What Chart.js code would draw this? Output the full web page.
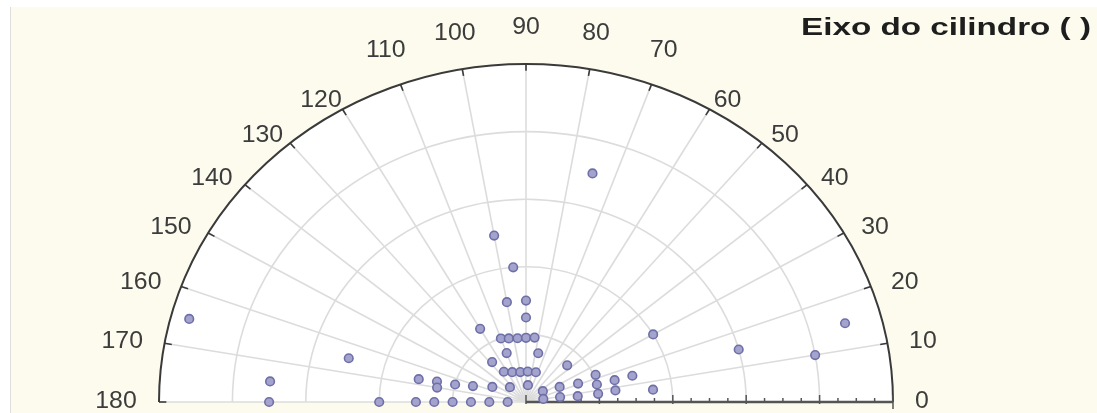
<!DOCTYPE html>
<html>
<head>
<meta charset="utf-8">
<script src="https://cdn.jsdelivr.net/npm/chart.js@4"></script>
<style>
  html, body { margin: 0; padding: 0; background: #ffffff; }
  #wrap { width: 1097px; height: 413px; }
</style>
</head>
<body>
<div id="wrap"><canvas id="chart" width="1097" height="413"></canvas></div>
<script>
// cylinder axis (degrees) and cylinder magnitude
const axisDegrees = [
  75, 100, 95, 100, 90, 90, 120,
  110, 104, 97, 90, 83,
  110, 77, 128,
  124, 113, 100, 87, 73,
  44, 30, 15, 10, 15,
  15, 6, 15, 8, 23, 15, 7,
  21, 7, 26, 9, 35, 11, 84,
  135, 154, 162, 165, 166, 170, 167,
  175, 165, 165,
  180, 180, 180, 180, 180, 180, 180, 180
]
const cylinderValues = [
  3.5, 2.5, 2.0, 1.5, 1.5, 1.25, 1.25,
  1.0, 0.97, 0.95, 0.95, 0.96,
  0.77, 0.74, 0.75,
  0.54, 0.48, 0.45, 0.45, 0.46,
  0.78, 2.0, 3.0, 4.0, 4.5,
  1.5, 1.74, 1.25, 1.23, 1.03, 1.0, 0.99,
  0.76, 0.71, 0.51, 0.47, 0.28, 0.24, 0.25,
  0.31, 0.51, 0.76, 1.0, 1.25, 1.23, 1.5,
  3.5, 4.75, 2.5,
  3.5, 2.0, 1.5, 1.25, 1.0, 0.75, 0.5, 0.25
]
const angleTicks = [0, 10, 20, 30, 40, 50, 60, 70, 80, 90, 100, 110, 120, 130, 140, 150, 160, 170, 180]
const radialRings = [1, 2, 3, 4]
const radialMax = 5
const titleText = "Eixo do cilindro ( )"

const rad = (deg) => (deg * Math.PI) / 180

const points = axisDegrees.map((deg, i) => ({
  x: cylinderValues[i] * Math.cos(rad(deg)),
  y: cylinderValues[i] * Math.sin(rad(deg)),
}))

// polar frame drawn from the x / y scales
const polarFrame = {
  id: "polarFrame",
  beforeDatasetsDraw(chart) {
    const { ctx } = chart
    const xs = chart.scales.x
    const ys = chart.scales.y
    const cx = xs.getPixelForValue(0)
    const cy = ys.getPixelForValue(0)
    const rx = (r) => xs.getPixelForValue(r) - cx
    const ry = (r) => cy - ys.getPixelForValue(r)
    const at = (r, deg) => [cx + rx(r) * Math.cos(rad(deg)), cy - ry(r) * Math.sin(rad(deg))]

    ctx.save()
    // panel
    ctx.fillStyle = "#ffffff"
    ctx.fillRect(0, 0, chart.width, chart.height)
    ctx.fillStyle = "#fcfbee"
    ctx.fillRect(10, 7, chart.width - 10, chart.height - 7)
    ctx.strokeStyle = "#dedede"
    ctx.lineWidth = 1
    ctx.beginPath()
    ctx.moveTo(10.5, 7)
    ctx.lineTo(10.5, chart.height)
    ctx.stroke()

    // white plot half-disc
    ctx.fillStyle = "#ffffff"
    ctx.beginPath()
    ctx.ellipse(cx, cy, rx(radialMax), ry(radialMax), 0, Math.PI, 2 * Math.PI)
    ctx.closePath()
    ctx.fill()

    // grid rings and spokes
    ctx.strokeStyle = "#dcdcdc"
    ctx.lineWidth = 1.6
    radialRings.forEach((r) => {
      ctx.beginPath()
      ctx.ellipse(cx, cy, rx(r), ry(r), 0, Math.PI, 2 * Math.PI)
      ctx.stroke()
    })
    angleTicks.forEach((deg) => {
      if (deg === 0) return
      const [x, y] = at(radialMax, deg)
      ctx.beginPath()
      ctx.moveTo(cx, cy)
      ctx.lineTo(x, y)
      ctx.stroke()
    })

    // outer arc with inward ticks
    ctx.strokeStyle = "#3a3a3a"
    ctx.lineWidth = 2
    ctx.beginPath()
    ctx.ellipse(cx, cy, rx(radialMax), ry(radialMax), 0, Math.PI, 2 * Math.PI)
    ctx.stroke()
    ctx.lineWidth = 1.6
    angleTicks.forEach((deg) => {
      const [x1, y1] = at(radialMax, deg)
      const [x2, y2] = at(radialMax - 0.1, deg)
      ctx.beginPath()
      ctx.moveTo(x1, y1)
      ctx.lineTo(x2, y2)
      ctx.stroke()
    })

    // radial axis along 0 deg
    ctx.strokeStyle = "#555555"
    ctx.lineWidth = 2.5
    ctx.beginPath()
    ctx.moveTo(cx, cy)
    ctx.lineTo(cx + rx(radialMax), cy)
    ctx.stroke()
    ctx.lineWidth = 1.5
    for (let v = 0; v <= radialMax; v += 0.25) {
      const x = cx + rx(v)
      const major = Number.isInteger(v)
      ctx.beginPath()
      ctx.moveTo(x, cy - (major ? 7 : 4))
      ctx.lineTo(x, cy + (v === radialMax ? 7 : major ? 2 : 0))
      ctx.stroke()
    }

    // angle labels
    ctx.fillStyle = "#3c3c3c"
    ctx.font = "23px 'Liberation Sans', Arial, sans-serif"
    ctx.textAlign = "center"
    ctx.textBaseline = "middle"
    angleTicks.forEach((deg) => {
      const text = String(deg)
      const s = Math.sin(rad(deg))
      const gx = 36 + (text.length - 2) * 7
      const gy = s > 0.93 ? 36 : 10
      const x = cx + (rx(radialMax) + gx) * Math.cos(rad(deg))
      const y = cy - (ry(radialMax) + gy) * s
      ctx.save()
      ctx.translate(x, y)
      ctx.scale(1.08, 1)
      ctx.fillText(text, 0, 0)
      ctx.restore()
    })
    ctx.restore()
  },
  afterDraw(chart) {
    const { ctx } = chart
    ctx.save()
    ctx.fillStyle = "#1e1e1e"
    ctx.font = "bold 24px 'Liberation Sans', Arial, sans-serif"
    ctx.textAlign = "right"
    ctx.textBaseline = "middle"
    const w = ctx.measureText(titleText).width
    ctx.translate(1091, 28)
    ctx.scale(290 / w, 1)
    ctx.fillText(titleText, 0, 0)
    ctx.restore()
  },
}

new Chart(document.getElementById("chart"), {
  type: "scatter",
  data: {
    datasets: [
      {
        data: points,
        pointRadius: 4.3,
        pointBackgroundColor: "#a3a3cd",
        pointBorderColor: "#6f6fa8",
        pointBorderWidth: 1.6,
        clip: false,
      },
    ],
  },
  options: {
    responsive: false,
    animation: false,
    layout: { padding: { left: 159, right: 204, top: 64, bottom: 11 } },
    scales: {
      x: { type: "linear", min: -radialMax, max: radialMax, display: false },
      y: { type: "linear", min: 0, max: radialMax, display: false },
    },
    plugins: {
      legend: { display: false },
      tooltip: { enabled: false },
    },
  },
  plugins: [polarFrame],
})
</script>
</body>
</html>
